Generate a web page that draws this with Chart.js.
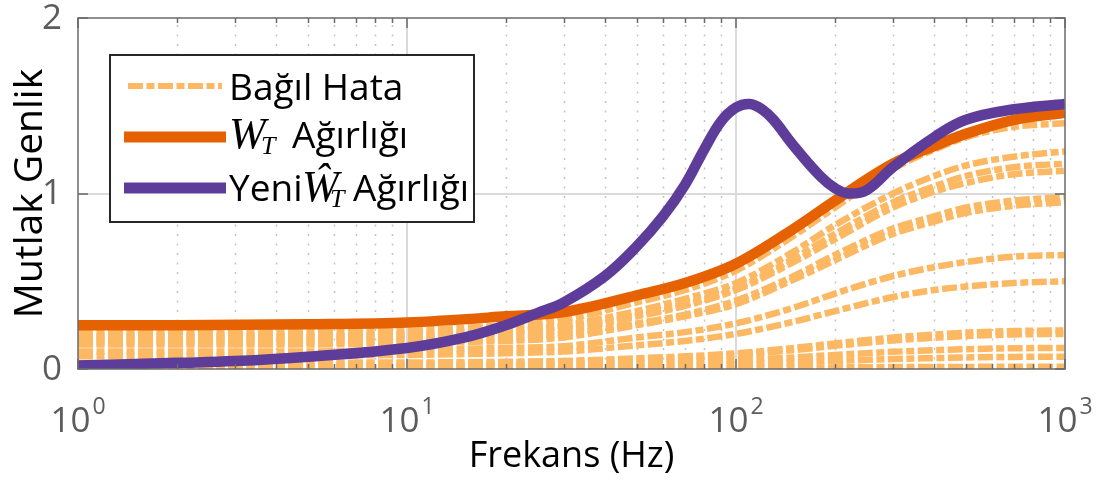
<!DOCTYPE html>
<html>
<head>
<meta charset="utf-8">
<script src="https://cdn.jsdelivr.net/npm/chart.js@4.4.1/dist/chart.umd.min.js"></script>
<style>
  html, body { margin: 0; padding: 0; background: #ffffff; }
  canvas { display: block; }
</style>
</head>
<body>
<canvas id="chart" width="1104" height="484"></canvas>
<script>
// Frequency grid (Hz) shared by the weight and the relative-error curves
const freqGrid = [1, 2, 5, 10, 20, 30, 50, 70, 100, 150, 200, 300, 400, 500, 700, 1000];

// W_T weight magnitude
const weightWT = [0.25, 0.25, 0.255, 0.265, 0.30, 0.325, 0.42, 0.49, 0.60, 0.80, 0.96, 1.17, 1.27, 1.34, 1.42, 1.46];

// New weight magnitude (own frequency grid, denser around the resonance)
const freqNew = [1, 2, 3, 5, 10, 15, 20, 25, 30, 40, 50, 60, 70, 80, 90, 100, 110, 120, 130, 150, 180, 200, 220, 250, 300, 400, 500, 700, 1000];
const weightNew = [0.02, 0.035, 0.045, 0.07, 0.12, 0.18, 0.25, 0.32, 0.38, 0.53, 0.70, 0.87, 1.05, 1.25, 1.41, 1.49, 1.51, 1.48, 1.42, 1.27, 1.10, 1.03, 1.00, 1.02, 1.15, 1.32, 1.42, 1.48, 1.51];

// Relative error of each perturbed model
const relErr01 = [0.21, 0.21, 0.21, 0.22, 0.25, 0.28, 0.38, 0.45, 0.56, 0.76, 0.92, 1.14, 1.25, 1.32, 1.38, 1.40];
const relErr02 = [0.19, 0.19, 0.19, 0.20, 0.22, 0.25, 0.33, 0.40, 0.49, 0.67, 0.82, 1.00, 1.10, 1.16, 1.21, 1.24];
const relErr03 = [0.18, 0.18, 0.18, 0.19, 0.21, 0.24, 0.31, 0.37, 0.46, 0.63, 0.77, 0.95, 1.04, 1.10, 1.15, 1.17];
const relErr04 = [0.17, 0.17, 0.17, 0.18, 0.20, 0.22, 0.30, 0.36, 0.45, 0.61, 0.74, 0.92, 1.01, 1.06, 1.11, 1.13];
const relErr05 = [0.15, 0.15, 0.15, 0.16, 0.17, 0.20, 0.26, 0.31, 0.39, 0.53, 0.65, 0.80, 0.87, 0.92, 0.96, 0.98];
const relErr06 = [0.14, 0.14, 0.14, 0.15, 0.16, 0.18, 0.25, 0.30, 0.37, 0.51, 0.62, 0.77, 0.84, 0.89, 0.93, 0.95];
const relErr07 = [0.10, 0.10, 0.10, 0.11, 0.12, 0.13, 0.18, 0.21, 0.26, 0.35, 0.43, 0.53, 0.58, 0.61, 0.64, 0.65];
const relErr08 = [0.075, 0.075, 0.077, 0.08, 0.09, 0.10, 0.135, 0.16, 0.20, 0.27, 0.33, 0.41, 0.45, 0.47, 0.49, 0.50];
const relErr09 = [0.035, 0.035, 0.036, 0.037, 0.041, 0.046, 0.061, 0.072, 0.089, 0.120, 0.146, 0.179, 0.196, 0.207, 0.216, 0.220];
const relErr10 = [0.030, 0.030, 0.031, 0.032, 0.036, 0.040, 0.054, 0.064, 0.079, 0.108, 0.132, 0.163, 0.178, 0.188, 0.197, 0.200];
const relErr11 = [0.020, 0.020, 0.020, 0.021, 0.024, 0.026, 0.034, 0.040, 0.049, 0.066, 0.080, 0.098, 0.107, 0.113, 0.118, 0.120];
const relErr12 = [0.010, 0.010, 0.010, 0.011, 0.012, 0.014, 0.018, 0.022, 0.027, 0.038, 0.046, 0.057, 0.062, 0.066, 0.069, 0.070];
const relErr13 = [0.002, 0.002, 0.002, 0.002, 0.002, 0.003, 0.004, 0.004, 0.005, 0.007, 0.009, 0.011, 0.012, 0.012, 0.013, 0.013];
const relErrList = [relErr01, relErr02, relErr03, relErr04, relErr05, relErr06, relErr07,
                    relErr08, relErr09, relErr10, relErr11, relErr12, relErr13];

// Axis ticks and labels
const yTicks = [0, 1, 2];
const xDecades = [0, 1, 2, 3];
const xTitle = 'Frekans (Hz)';
const yTitle = 'Mutlak Genlik';
const legendRelErr = 'Bağıl Hata';
const legendWeightWord = 'Ağırlığı';
const legendNewWord = 'Yeni';

const COL_ERR = '#fdb863';
const COL_WT = '#e66101';
const COL_NEW = '#5e3c99';
const AXIS_COL = '#6a6a6a';
const TEXT_FONT = '"Open Sans", "Noto Sans", sans-serif';
const MATH_FONT = '"Liberation Serif", "DejaVu Serif", serif';
const DASH_DOT = [15, 3.5, 8, 3.5];

const toPoints = (xs, ys) => xs.map((f, i) => ({ x: f, y: ys[i] }));

const datasets = [
  {
    label: 'Yeni W_T',
    data: toPoints(freqNew, weightNew),
    borderColor: COL_NEW,
    borderWidth: 10.5,
    cubicInterpolationMode: 'default',
    tension: 0.4,
    order: 0
  },
  {
    label: 'W_T',
    data: toPoints(freqGrid, weightWT),
    borderColor: COL_WT,
    borderWidth: 10.5,
    cubicInterpolationMode: 'monotone',
    order: 1
  }
].concat(relErrList.map((vals, i) => ({
  label: legendRelErr + ' ' + (i + 1),
  data: toPoints(freqGrid, vals),
  borderColor: COL_ERR,
  borderWidth: 6.5,
  borderDash: DASH_DOT,
  borderCapStyle: 'butt',
  cubicInterpolationMode: 'monotone',
  order: 2
})));

// Grid, box, ticks, labels and legend drawn around the plotted lines
const axisFrame = {
  id: 'axisFrame',
  beforeDatasetsDraw(chart) {
    const { ctx, chartArea: a, scales: { x, y } } = chart;
    ctx.save();
    // dotted minor verticals
    ctx.strokeStyle = '#c4c4c4';
    ctx.lineWidth = 1.5;
    ctx.setLineDash([2, 7.5]);
    for (let p = 0; p < 3; p++) {
      for (let k = 2; k <= 9; k++) {
        const px = Math.round(x.getPixelForValue(k * Math.pow(10, p))) + 0.5;
        ctx.beginPath(); ctx.moveTo(px, a.bottom); ctx.lineTo(px, a.top); ctx.stroke();
      }
    }
    // solid major lines
    ctx.setLineDash([]);
    ctx.strokeStyle = '#dadada';
    ctx.lineWidth = 2;
    for (const p of [1, 2]) {
      const px = Math.round(x.getPixelForValue(Math.pow(10, p)));
      ctx.beginPath(); ctx.moveTo(px, a.bottom); ctx.lineTo(px, a.top); ctx.stroke();
    }
    const py = Math.round(y.getPixelForValue(1));
    ctx.beginPath(); ctx.moveTo(a.left, py); ctx.lineTo(a.right, py); ctx.stroke();
    ctx.restore();
  },
  afterDatasetsDraw(chart) {
    const { ctx, chartArea: a, scales: { x, y } } = chart;
    ctx.save();
    ctx.strokeStyle = AXIS_COL;
    ctx.lineWidth = 1.5;
    // tick marks pointing inward
    const vTick = (px, len) => {
      ctx.beginPath();
      ctx.moveTo(px, a.bottom); ctx.lineTo(px, a.bottom - len);
      ctx.moveTo(px, a.top); ctx.lineTo(px, a.top + len);
      ctx.stroke();
    };
    for (let p = 0; p < 3; p++) {
      for (let k = 2; k <= 9; k++) vTick(Math.round(x.getPixelForValue(k * Math.pow(10, p))) + 0.5, 5);
    }
    for (const p of xDecades) vTick(Math.round(x.getPixelForValue(Math.pow(10, p))), 10);
    for (const v of yTicks) {
      const py = Math.round(y.getPixelForValue(v));
      ctx.beginPath();
      ctx.moveTo(a.left, py); ctx.lineTo(a.left + 10, py);
      ctx.moveTo(a.right, py); ctx.lineTo(a.right - 10, py);
      ctx.stroke();
    }
    // box
    ctx.strokeRect(a.left, a.top, a.right - a.left, a.bottom - a.top);
    ctx.restore();
  },
  afterDraw(chart) {
    const { ctx, chartArea: a, scales: { x, y } } = chart;
    ctx.save();
    ctx.fillStyle = '#5c5c5c';
    // y tick labels
    ctx.font = '35px ' + TEXT_FONT;
    ctx.textAlign = 'right';
    ctx.textBaseline = 'middle';
    for (const v of yTicks) ctx.fillText(String(v), a.left - 16, y.getPixelForValue(v) + 1);
    // x tick labels: 10 with a raised exponent
    ctx.textAlign = 'left';
    ctx.textBaseline = 'alphabetic';
    for (const p of xDecades) {
      const cx = x.getPixelForValue(Math.pow(10, p));
      ctx.font = '35px ' + TEXT_FONT;
      const wBase = ctx.measureText('10').width;
      ctx.font = '23px ' + TEXT_FONT;
      const wExp = ctx.measureText(String(p)).width;
      const x0 = cx - (wBase + 2 + wExp) / 2;
      ctx.font = '35px ' + TEXT_FONT;
      ctx.fillText('10', x0, 432);
      ctx.font = '23px ' + TEXT_FONT;
      ctx.fillText(String(p), x0 + wBase + 2, 414);
    }
    // axis titles
    ctx.fillStyle = '#000000';
    ctx.font = '36px ' + TEXT_FONT;
    ctx.textAlign = 'center';
    ctx.fillText(xTitle, (a.left + a.right) / 2, 467);
    ctx.save();
    ctx.translate(42, (a.top + a.bottom) / 2);
    ctx.rotate(-Math.PI / 2);
    ctx.font = '39px ' + TEXT_FONT;
    ctx.fillText(yTitle, 0, 0);
    ctx.restore();

    // legend
    ctx.fillStyle = '#ffffff';
    ctx.fillRect(110, 55, 364, 167);
    ctx.strokeStyle = '#262626';
    ctx.lineWidth = 2;
    ctx.strokeRect(110, 55, 364, 167);
    const sample = (y0, color, width, dash) => {
      ctx.save();
      ctx.strokeStyle = color; ctx.lineWidth = width; ctx.lineCap = 'butt';
      ctx.setLineDash(dash);
      ctx.beginPath(); ctx.moveTo(dash.length ? 128 : 124, y0); ctx.lineTo(dash.length ? 222 : 226, y0); ctx.stroke();
      ctx.restore();
    };
    sample(86, COL_ERR, 6, DASH_DOT);
    sample(137, COL_WT, 11, []);
    sample(188, COL_NEW, 11, []);

    ctx.fillStyle = '#000000';
    ctx.textAlign = 'left';
    ctx.font = '37px ' + TEXT_FONT;
    ctx.fillText(legendRelErr, 229, 100);

    // W_T Ağırlığı
    ctx.font = 'italic 44px ' + MATH_FONT;
    ctx.fillText('W', 229, 148);
    ctx.font = 'italic 26px ' + MATH_FONT;
    ctx.fillText('T', 261, 154);
    ctx.font = '37px ' + TEXT_FONT;
    ctx.fillText(legendWeightWord, 292, 148);

    // Yeni Ŵ_T Ağırlığı
    ctx.fillText(legendNewWord, 229, 201);
    ctx.font = 'italic 44px ' + MATH_FONT;
    ctx.fillText('Ŵ', 302, 201);
    ctx.font = 'italic 26px ' + MATH_FONT;
    ctx.fillText('T', 330, 207);
    ctx.font = '37px ' + TEXT_FONT;
    ctx.fillText(legendWeightWord, 353, 201);
    ctx.restore();
  }
};

new Chart(document.getElementById('chart'), {
  type: 'line',
  data: { datasets },
  options: {
    responsive: false,
    animation: false,
    devicePixelRatio: 1,
    layout: { padding: { top: 18, right: 39, left: 0, bottom: 0 } },
    elements: {
      point: { radius: 0, hoverRadius: 0 },
      line: { fill: false, borderJoinStyle: 'round' }
    },
    plugins: { legend: { display: false }, tooltip: { enabled: false } },
    scales: {
      x: {
        type: 'logarithmic',
        min: 1,
        max: 1000,
        grid: { display: false },
        border: { display: false },
        ticks: { display: false },
        afterFit(s) { s.height = 115; }
      },
      y: {
        type: 'linear',
        min: 0,
        max: 2,
        grid: { display: false },
        border: { display: false },
        ticks: { display: false, stepSize: 1 },
        afterFit(s) { s.width = 78; }
      }
    }
  },
  plugins: [axisFrame]
});
</script>
</body>
</html>
